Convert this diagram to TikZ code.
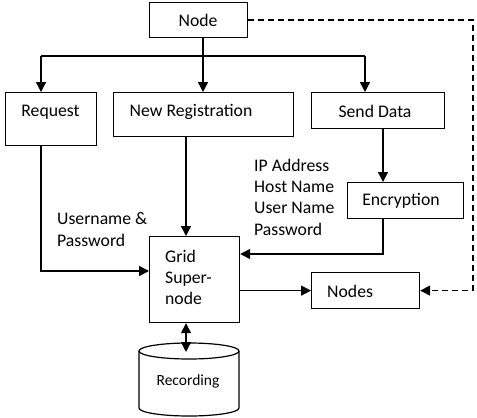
\documentclass[tikz,border=0pt]{standalone}
\usepackage{fontspec}
\setmainfont{Carlito}
\usetikzlibrary{arrows.meta,calc}
\begin{document}
\begin{tikzpicture}[x=1pt,y=-1pt,
  box/.style={draw,line width=1.2pt,inner sep=0pt,anchor=north west},
  txt/.style={inner sep=0pt,font=\fontsize{17.7}{21.3}\selectfont},
  line/.style={line width=1.4pt},
  arr/.style={line width=1.4pt,-{Triangle[length=10pt,width=10pt]}},
  darr/.style={line width=1.4pt,{Triangle[length=10pt,width=10pt]}-{Triangle[length=10pt,width=10pt]}},
  dsh/.style={line width=1.4pt,dash pattern=on 6pt off 4pt,-{Triangle[length=10pt,width=10pt]}}]
\useasboundingbox (0,0) rectangle (477,418);
% boxes
\node[box,minimum width=98,minimum height=35] (nd) at (149,2) {};
\node[txt] (ndt) at (198,20) {Node};
\node[box,minimum width=91,minimum height=53] (req) at (5,92) {};
\node[txt] (reqt) at (50.5,112) {Request};
\node[box,minimum width=180,minimum height=44] (nreg) at (113,92) {};
\node[txt] (nregt) at (191,112) {New Registration};
\node[box,minimum width=133,minimum height=36] (sd) at (311,92) {};
\node[txt] (sdt) at (375,111) {Send Data};
\node[box,minimum width=116,minimum height=36] (enc) at (347,182) {};
\node[txt] (enct) at (401,201) {Encryption};
\node[box,minimum width=90,minimum height=86] (grid) at (149,236) {};
\node[txt,align=left,anchor=base west] (gridt) at (165,304.6) {Grid\\Super-\\node};
\node[box,minimum width=108,minimum height=36] (nodes) at (311,272) {};
\node[txt,anchor=base west] (nodest) at (327,297) {Nodes};
% labels
\node[txt,align=left,anchor=base west] (ipl) at (254,235) {IP Address\\Host Name\\User Name\\Password};
\node[txt,align=left,anchor=base west] (upl) at (57,246) {Username \&\\Password};
% cylinder
\draw[line width=1.2pt] (189,351) ellipse [x radius=50, y radius=8];
\draw[line width=1.2pt] (139,351) -- (139,408) arc[start angle=180,end angle=0,x radius=50,y radius=8] -- (239,351);
\node[inner sep=0pt,font=\fontsize{15.5}{18}\selectfont] (rec) at (188,381) {Recording};
\coordinate (rectop) at (186,352);
% connectors
\coordinate (j) at (203,56);
\coordinate (jl) at (41,56);
\coordinate (jr) at (365,56);
\coordinate (xg) at (186,0);
\coordinate (xe) at (383,0);
\coordinate (gin) at (0,271);
\coordinate (gE) at (0,254);
\coordinate (dr) at (473,0);
\draw[line] (nd.south -| j) -- (j);
\draw[line] (jl) -- (jr);
\draw[arr] (j) -- (nreg.north -| j);
\draw[arr] (jl) -- (req.north -| jl);
\draw[arr] (jr) -- (sd.north -| jr);
\draw[arr] (nreg.south -| xg) -- (grid.north -| xg);
\draw[arr] (req.south -| jl) |- (grid.west |- gin);
\draw[arr] (sd.south -| xe) -- (enc.north -| xe);
\draw[arr] (enc.south -| xe) |- (grid.east |- gE);
\draw[arr] (grid.east |- nodes.west) -- (nodes.west);
\draw[dsh] (nd.east) -- (nd.east -| dr) -- (dr |- nodes.east) -- (nodes.east);
\draw[darr] (grid.south -| xg) -- (rectop);
\end{tikzpicture}
\end{document}
